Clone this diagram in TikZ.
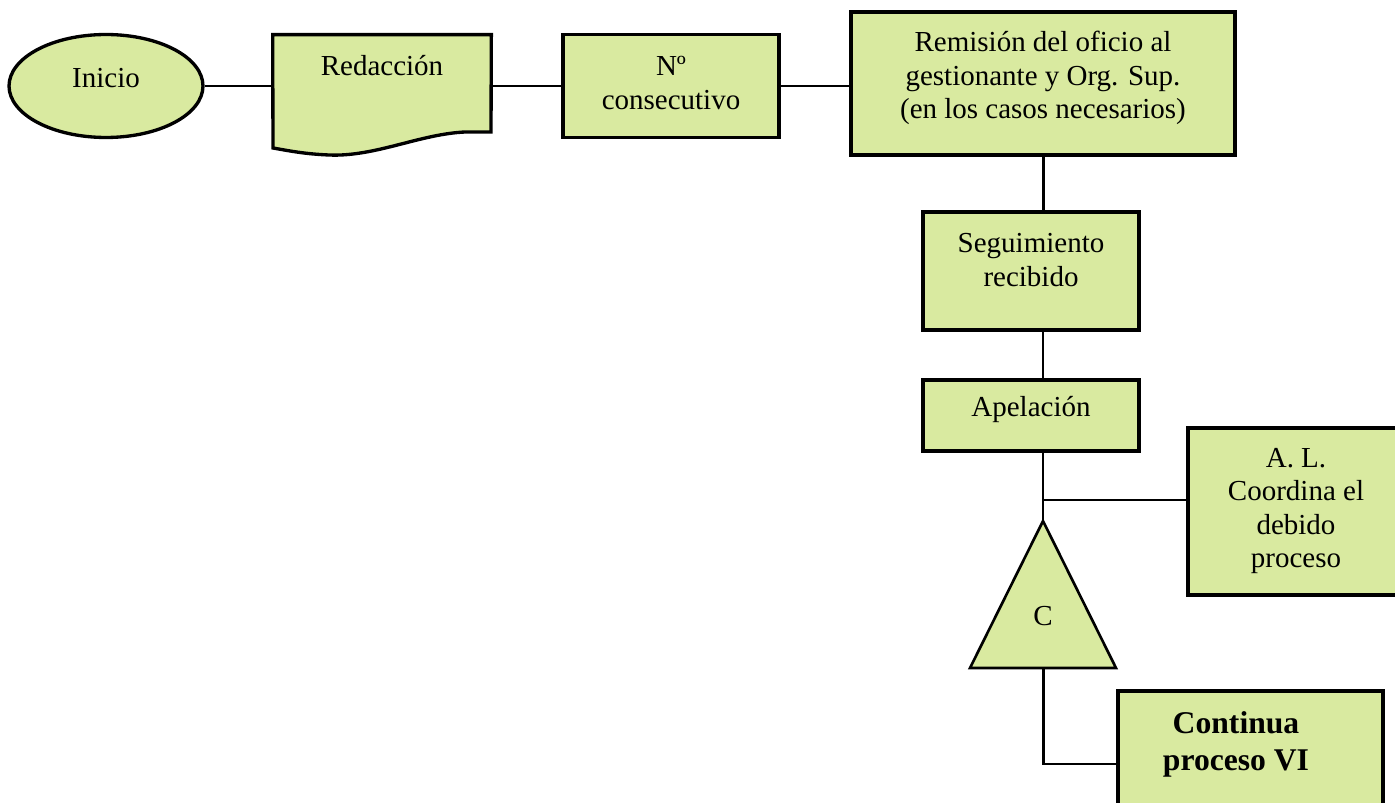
\documentclass[tikz,border=0pt]{standalone}
\usepackage{fontspec}
\setmainfont{Liberation Serif}
\usetikzlibrary{shapes.geometric}
\definecolor{boxgreen}{RGB}{217,234,160}

\begin{document}
\begin{tikzpicture}
[x=0.02cm,y=-0.02cm,%
  box/.style={draw,line width=1.9pt,fill=boxgreen,inner sep=0pt},%
  txt/.style={align=center,inner sep=0pt,font=\fontsize{16.5}{19}\selectfont},%
  bold/.style={align=center,inner sep=0pt,font=\fontsize{18}{21}\selectfont\bfseries},%
  link/.style={line width=1.7pt},%
  thinlink/.style={line width=1.1pt}]
\useasboundingbox (0,0) rectangle (1395,803);
\clip (0,0) rectangle (1395,803);

% top row
\node[box,ellipse,minimum width=3.88cm,minimum height=2.06cm] (ini) at (106,86) {};
\node[txt] (ini-t) at (106,78) {Inicio};
\node[minimum width=4.36cm,minimum height=1.96cm] (red) at (382,84) {};
\draw[line width=1.9pt,fill=boxgreen] (red.north west) -- (red.north east) -- (491,132)
  -- (465,132) .. controls (420,134) and (375,157) .. (329,155)
  .. controls (305,154) and (290,151) .. (273,148) -- cycle;
\node[txt] (red-t) at (382,66) {Redacción};
\node[box,minimum width=4.32cm,minimum height=2.06cm] (num) at (671,86) {};
\node[txt] (num-t) at (671,83) {Nº\\consecutivo};
\node[box,minimum width=7.68cm,minimum height=2.86cm] (rem) at (1043,83.5) {};
\node[txt] (rem-t) at (1043,78) {Remisión del oficio al\\gestionante y Org. Sup.\\(en los casos necesarios)};

% right column
\node[box,minimum width=4.32cm,minimum height=2.36cm] (seg) at (1031,271) {};
\node[txt] (seg-t) at (1031,260) {Seguimiento\\recibido};
\node[box,minimum width=4.32cm,minimum height=1.42cm] (apel) at (1031,415.5) {};
\node[txt] (apel-t) at (1031,410) {Apelación};
\node[box,minimum width=4.32cm,minimum height=3.34cm] (al) at (1296,511.5) {};
\node[txt] (al-t) at (1296,511) {A. L.\\Coordina el\\debido\\proceso};
\coordinate (tri-a) at (1043,521);
\coordinate (tri-b) at (1043,668);
\draw[line width=1.5pt,fill=boxgreen] (tri-a) -- (1116,668) -- (970,668) -- cycle;
\node[txt] (c) at (1043,616) {C};
\node[box,minimum width=5.3cm,minimum height=2.92cm] (cont) at (1250.5,764) {};
\node[bold] (cont-t) at (1236,744) {Continua\\proceso VI};

% connectors
\draw[link] (ini.east) -- (ini.east -| red.west);
\draw[link] (red.east |- num.west) -- (num.west);
\draw[link] (num.east) -- (num.east -| rem.west);
\draw[link] (rem.south) -- (rem.south |- seg.north);
\draw[thinlink] (rem.south |- seg.south) -- (rem.south |- apel.north);
\draw[thinlink] (rem.south |- apel.south) -- (tri-a);
\coordinate (br) at (1043,500);
\draw[thinlink] (br) -- (br -| al.west);
\draw[link] (tri-b) |- (cont.west);
\end{tikzpicture}
\end{document}
